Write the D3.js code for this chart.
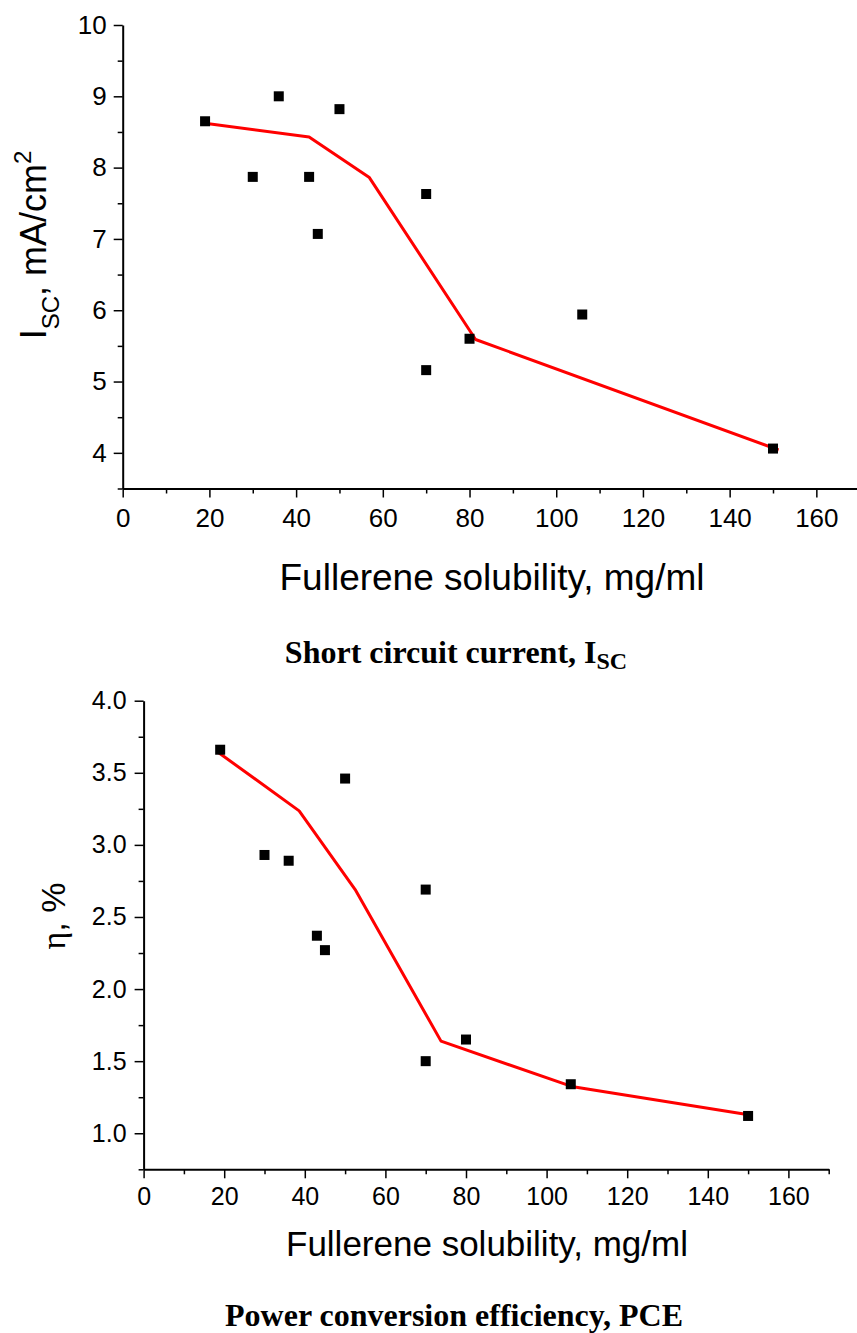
<!DOCTYPE html>
<html>
<head>
<meta charset="utf-8">
<script src="https://cdn.jsdelivr.net/npm/d3@7"></script>
<style>
  body { margin: 0; background: #fff; }
  svg { display: block; }
  .axis path, .axis line { stroke: #000; }
  .axis text { fill: #000; font-family: "Liberation Sans", Arial, sans-serif; }
</style>
</head>
<body>
<div id="chart"></div>
<script>
// Fullerene solubility (mg/ml), same compounds in both panels
var solubility = [19, 30, 36, 43, 45, 50, 70, 70, 80, 106, 150];
// Short circuit current, mA/cm2
var iscValues = [8.65, 7.87, 9.0, 7.87, 7.07, 8.82, 7.63, 5.16, 5.6, 5.94, 4.06];
// Power conversion efficiency, %
var pceValues = [3.66, 2.93, 2.89, 2.37, 2.27, 3.46, 2.69, 1.50, 1.65, 1.34, 1.12];

// Red trend lines
var iscTrendX = [19.4, 43, 56.9, 81.4, 151.3];
var iscTrendY = [8.62, 8.43, 7.86, 5.59, 4.04];
var pceTrendX = [18.3, 38.6, 52.5, 73.8, 106.2, 150.9];
var pceTrendY = [3.646, 3.236, 2.69, 1.639, 1.325, 1.125];

// Tick values
var xMajorTicks = [0, 20, 40, 60, 80, 100, 120, 140, 160];
var xMinorTicks = [10, 30, 50, 70, 90, 110, 130, 150, 170];
var iscMajorTicks = [4, 5, 6, 7, 8, 9, 10];
var iscMinorTicks = [3.5, 4.5, 5.5, 6.5, 7.5, 8.5, 9.5];
var pceMajorTicks = [1.0, 1.5, 2.0, 2.5, 3.0, 3.5, 4.0];
var pceMinorTicks = [0.75, 1.25, 1.75, 2.25, 2.75, 3.25, 3.75];

function init() {
  var w = 857;
  var h = 1333;

  var svg = d3.select("#chart")
    .append("svg")
    .attr("width", w)
    .attr("height", h);

  //Top panel: Isc
  drawPanel(svg, {
    xRange: [122.7, 859.7],
    yDomain: [3.5, 10],
    yRange: [488.5, 25],
    yMajor: iscMajorTicks,
    yMinor: iscMinorTicks,
    yFormat: d3.format("d"),
    tickFont: 26,
    xPad: 11,
    yPad: 7,
    yValues: iscValues,
    trendX: iscTrendX,
    trendY: iscTrendY
  });

  //Bottom panel: PCE
  drawPanel(svg, {
    xRange: [143.6, 828.7],
    yDomain: [0.75, 4.0],
    yRange: [1169.3, 700.7],
    yMajor: pceMajorTicks,
    yMinor: pceMinorTicks,
    yFormat: d3.format(".1f"),
    tickFont: 25,
    xPad: 9,
    yPad: 8,
    yValues: pceValues,
    trendX: pceTrendX,
    trendY: pceTrendY
  });

  // x axis titles
  svg.append("text")
    .attr("x", 492)
    .attr("y", 590)
    .attr("text-anchor", "middle")
    .style("font-family", "'Liberation Sans', Arial, sans-serif")
    .style("font-size", "37px")
    .text("Fullerene solubility, mg/ml");

  svg.append("text")
    .attr("x", 487)
    .attr("y", 1256)
    .attr("text-anchor", "middle")
    .style("font-family", "'Liberation Sans', Arial, sans-serif")
    .style("font-size", "35px")
    .text("Fullerene solubility, mg/ml");

  // y axis title top: I_SC, mA/cm^2
  var yt = svg.append("text")
    .attr("transform", "translate(46,245) rotate(-90)")
    .attr("text-anchor", "middle")
    .style("font-family", "'Liberation Sans', Arial, sans-serif")
    .style("font-size", "36px");
  yt.append("tspan").text("I");
  yt.append("tspan").attr("dy", 13).style("font-size", "24px").text("SC");
  yt.append("tspan").attr("dy", -13).text(", mA/cm");
  yt.append("tspan").attr("dy", -15).style("font-size", "24px").text("2");

  // y axis title bottom: eta, %
  var yb = svg.append("text")
    .attr("transform", "translate(65,916) rotate(-90)")
    .attr("text-anchor", "middle")
    .style("font-family", "'Liberation Sans', Arial, sans-serif")
    .style("font-size", "34px");
  yb.append("tspan")
    .style("font-family", "'Liberation Serif', 'Times New Roman', serif")
    .text("η");
  yb.append("tspan").text(", %");

  // captions
  var c1 = svg.append("text")
    .attr("x", 456)
    .attr("y", 663)
    .attr("text-anchor", "middle")
    .style("font-family", "'Liberation Serif', 'Times New Roman', serif")
    .style("font-weight", "bold")
    .style("font-size", "32px");
  c1.append("tspan").text("Short circuit current, I");
  c1.append("tspan").attr("dy", 6).style("font-size", "24px").text("SC");

  svg.append("text")
    .attr("x", 454)
    .attr("y", 1326)
    .attr("text-anchor", "middle")
    .style("font-family", "'Liberation Serif', 'Times New Roman', serif")
    .style("font-weight", "bold")
    .style("font-size", "32px")
    .text("Power conversion efficiency, PCE");
}

function drawPanel(svg, opt) {
  //Set up Scales
  var xScale = d3.scaleLinear()
    .domain([0, 170])
    .range(opt.xRange);
  var yScale = d3.scaleLinear()
    .domain(opt.yDomain)
    .range(opt.yRange);

  var x0 = opt.xRange[0];
  var y0 = opt.yRange[0];

  var g = svg.append("g");

  // minor ticks first, no labels
  g.append("g")
    .attr("class", "axis")
    .attr("transform", "translate(0," + y0 + ")")
    .call(d3.axisBottom(xScale).tickValues(xMinorTicks).tickSize(5).tickSizeOuter(0).tickFormat(""))
    .call(function (a) { a.select(".domain").remove(); })
    .selectAll("line").attr("stroke-width", 1.5);

  g.append("g")
    .attr("class", "axis")
    .attr("transform", "translate(" + x0 + ",0)")
    .call(d3.axisLeft(yScale).tickValues(opt.yMinor).tickSize(5).tickSizeOuter(0).tickFormat(""))
    .call(function (a) { a.select(".domain").remove(); })
    .selectAll("line").attr("stroke-width", 1.5);

  //Add x axis
  var xAxis = g.append("g")
    .attr("class", "axis")
    .attr("transform", "translate(0," + y0 + ")")
    .call(d3.axisBottom(xScale).tickValues(xMajorTicks).tickSize(9).tickSizeOuter(0).tickPadding(opt.xPad));
  xAxis.select(".domain").attr("stroke-width", 2);
  xAxis.selectAll("line").attr("stroke-width", 1.5);
  xAxis.selectAll("text").style("font-size", opt.tickFont + "px");

  //Add y axis
  var yAxis = g.append("g")
    .attr("class", "axis")
    .attr("transform", "translate(" + x0 + ",0)")
    .call(d3.axisLeft(yScale).tickValues(opt.yMajor).tickSize(9).tickSizeOuter(0).tickPadding(opt.yPad).tickFormat(opt.yFormat));
  yAxis.select(".domain").attr("stroke-width", 2);
  yAxis.selectAll("line").attr("stroke-width", 1.5);
  yAxis.selectAll("text").style("font-size", opt.tickFont + "px");

  //Trend line
  var line = d3.line()
    .x(function (d) { return xScale(d[0]); })
    .y(function (d) { return yScale(d[1]); });

  g.append("path")
    .datum(d3.zip(opt.trendX, opt.trendY))
    .attr("fill", "none")
    .attr("stroke", "#ff0000")
    .attr("stroke-width", 3)
    .attr("stroke-linejoin", "round")
    .attr("d", line);

  //Square markers
  var s = 10;
  g.selectAll("rect.pt")
    .data(d3.zip(solubility, opt.yValues))
    .enter()
    .append("rect")
    .attr("class", "pt")
    .attr("x", function (d) { return xScale(d[0]) - s / 2; })
    .attr("y", function (d) { return yScale(d[1]) - s / 2; })
    .attr("width", s)
    .attr("height", s)
    .attr("fill", "#000");

  return g;
}

window.onload = function () {
  init();
}
</script>
</body>
</html>
